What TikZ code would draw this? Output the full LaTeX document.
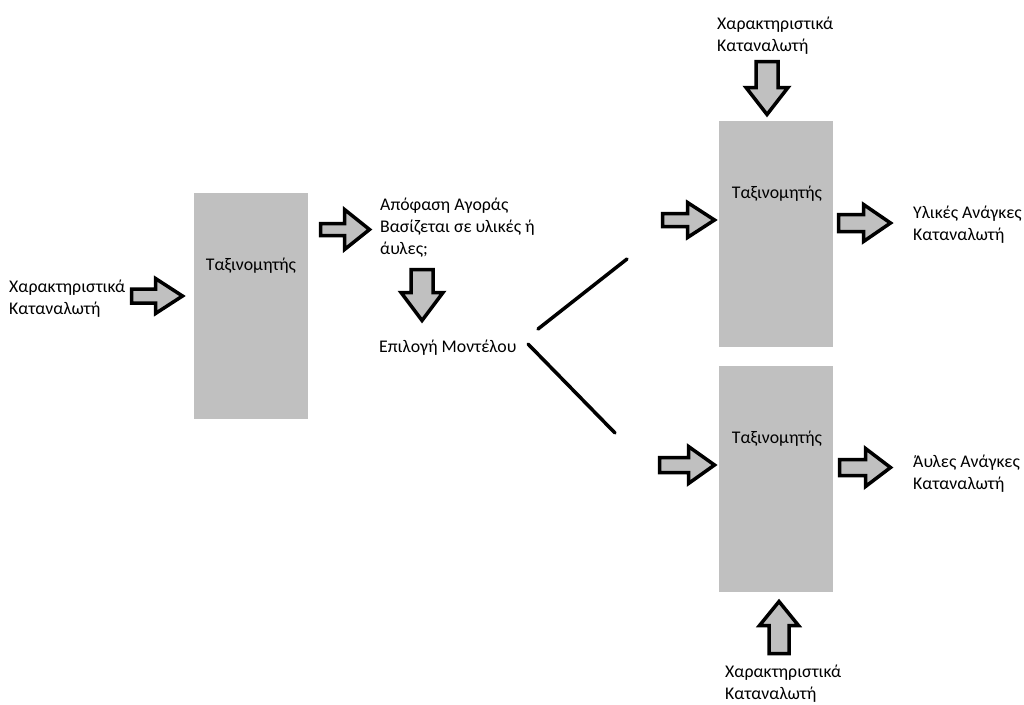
\documentclass[tikz,border=0pt]{standalone}
\usepackage{fontspec}
\setmainfont{Carlito}
\begin{document}
\begin{tikzpicture}[x=1pt,y=-1pt,
  box/.style={fill=boxgray, draw=none, minimum width=114pt, minimum height=226pt, inner sep=0pt},
  lbl/.style={font=\fontsize{17.8}{22}\selectfont, inner sep=0pt, align=left, text=black},
  ttl/.style={font=\fontsize{17.8}{22}\selectfont, inner sep=0pt},
  barrow/.style={draw=black, line width=3.5pt, fill=boxgray, line join=miter},
  branch/.style={draw=black, line width=3.5pt, line cap=round}]
\definecolor{boxgray}{RGB}{192,192,192}
% block arrow: tail point, direction, length, shaft half-width, head half-width, head length
\newcommand{\blockarrow}[6]{%
  \begin{scope}[shift={(#1)}, rotate=#2]
    \draw[barrow] (0,-#4) -- ({#3-#6},-#4) -- ({#3-#6},-#5) -- (#3,0)
      -- ({#3-#6},#5) -- ({#3-#6},#4) -- (0,#4) -- cycle;
  \end{scope}}
\useasboundingbox (0,0) rectangle (1024,704);

% classifier blocks
\node[box] (c1) at (251,306) {};
\node[box] (c2) at (776,234) {};
\node[box] (c3) at (776,478.5) {};
\node[ttl, anchor=base] (t1) at (251,270) {Ταξινομητής};
\node[ttl, anchor=base] (t2) at (777,198) {Ταξινομητής};
\node[ttl, anchor=base] (t3) at (777,443) {Ταξινομητής};

% text labels (anchored at the baseline of the last line)
\node[lbl, anchor=base west] (in1) at (9,314) {Χαρακτηριστικά\\Καταναλωτή};
\node[lbl, anchor=base west] (dec) at (380,254) {Απόφαση Αγοράς\\Βασίζεται σε υλικές ή\\άυλες;};
\node[lbl, anchor=base west] (sel) at (379,352) {Επιλογή Μοντέλου};
\node[lbl, anchor=base west] (in2) at (717,51) {Χαρακτηριστικά\\Καταναλωτή};
\node[lbl, anchor=base west] (out2) at (913,240) {Υλικές Ανάγκες\\Καταναλωτή};
\node[lbl, anchor=base west] (out3) at (913,489) {Άυλες Ανάγκες\\Καταναλωτή};
\node[lbl, anchor=base west] (in3) at (725,699) {Χαρακτηριστικά\\Καταναλωτή};

% block arrows
\blockarrow{131.5,296}{0}{51}{7}{17.5}{27}
\blockarrow{320.5,229.5}{0}{49}{6}{20}{25}
\blockarrow{422,269.5}{-90}{51}{11}{21}{28}
\blockarrow{767,61.5}{-90}{53}{11}{21}{27}
\blockarrow{662.5,220}{0}{52}{6.5}{17.5}{27}
\blockarrow{838.5,223}{0}{52}{8.5}{18.5}{27}
\blockarrow{659.5,465}{0}{55}{7.5}{18.5}{26}
\blockarrow{839.5,467.5}{0}{51}{8}{19}{25}
\blockarrow{779,653.5}{90}{52}{10}{19.5}{24}

% branches from the model choice
\coordinate (b1s) at (538,329);
\coordinate (b1e) at (627,259);
\coordinate (b2s) at (528,344);
\coordinate (b2e) at (615,433);
\draw[branch] (b1s) -- (b1e);
\draw[branch] (b2s) -- (b2e);
\end{tikzpicture}
\end{document}
